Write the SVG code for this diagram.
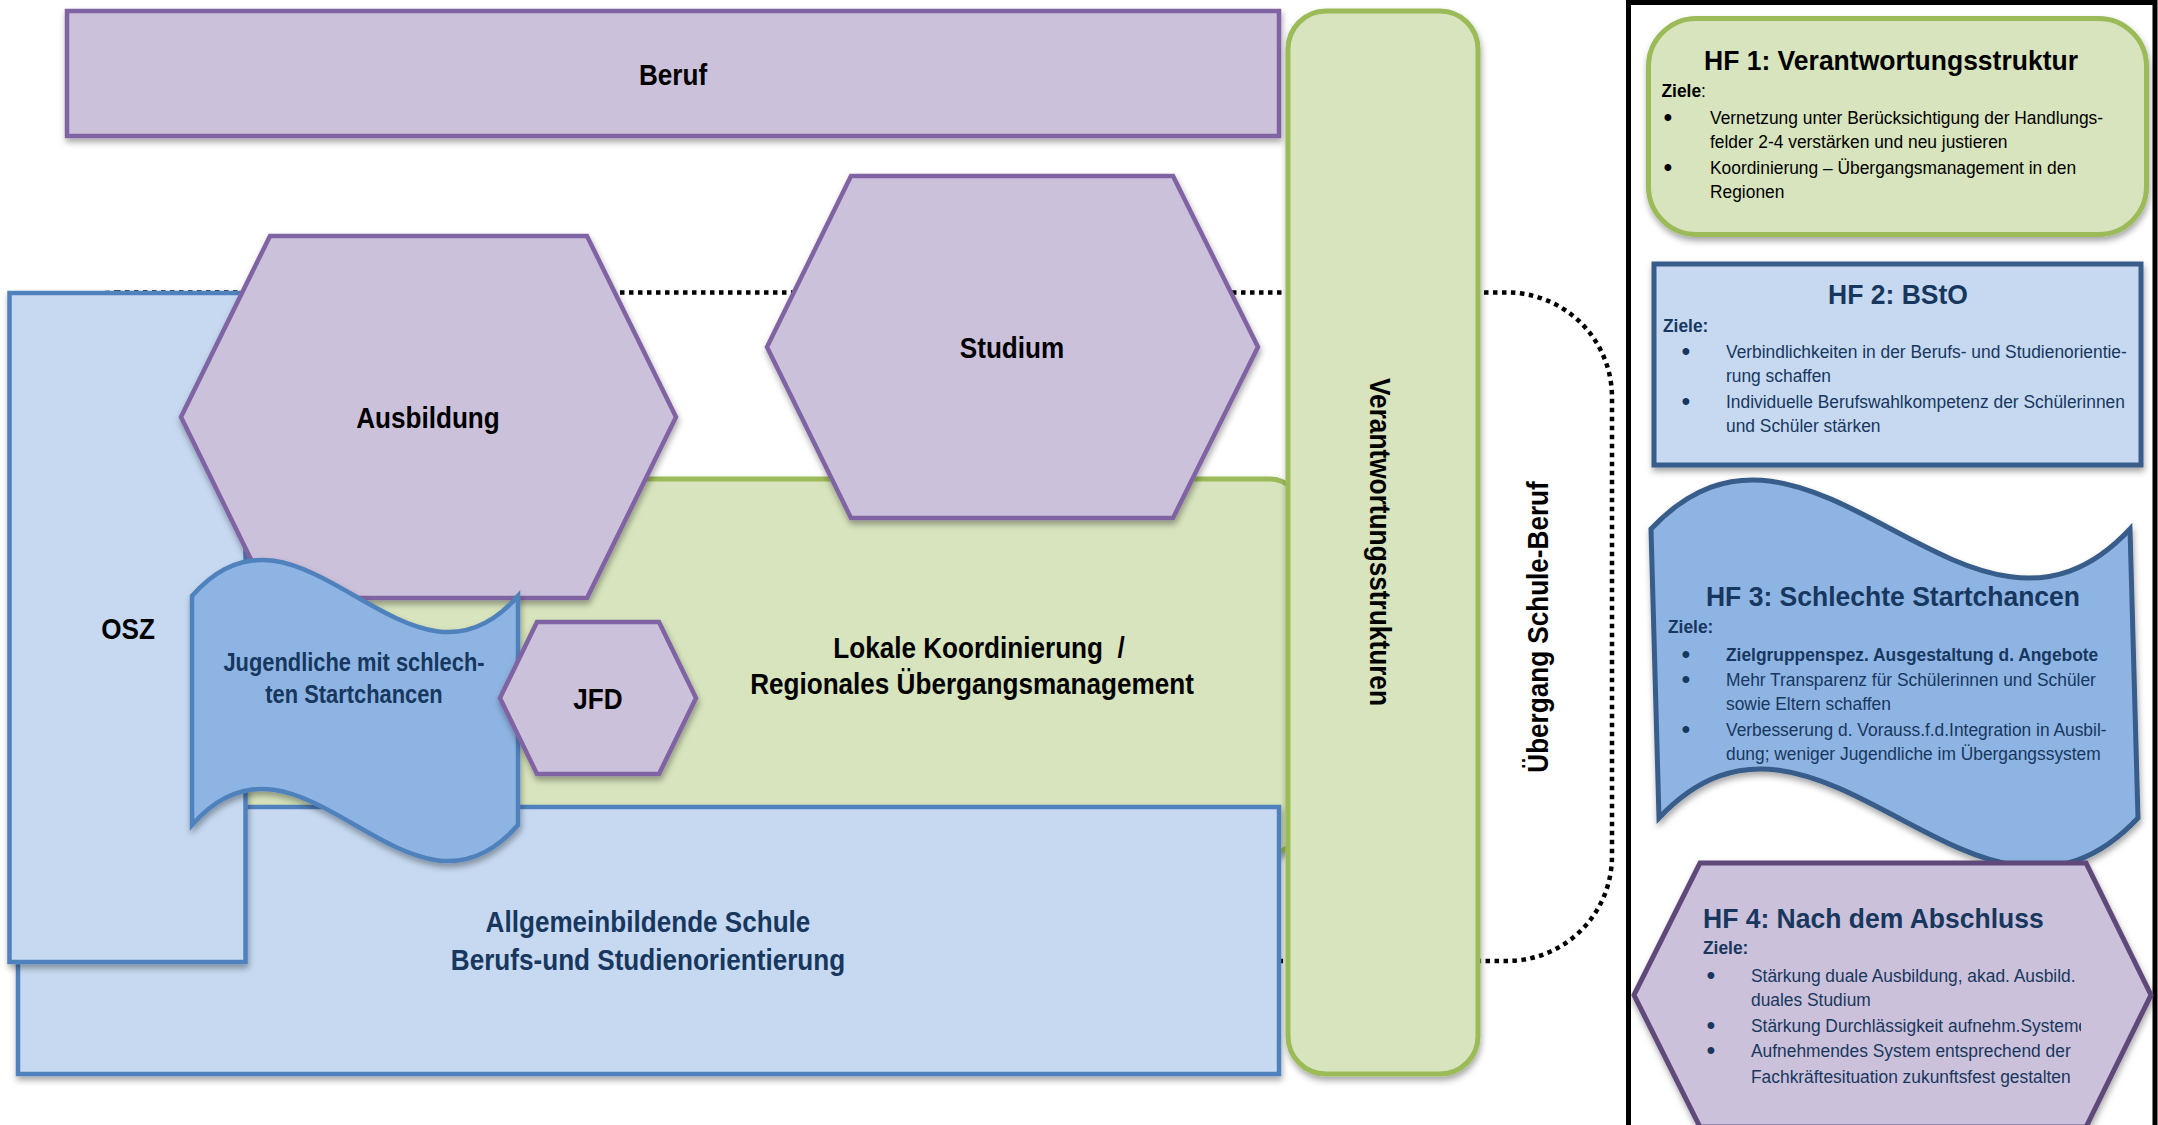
<svg xmlns="http://www.w3.org/2000/svg" width="2158" height="1125" viewBox="0 0 2158 1125">
<defs>
<filter id="sh" x="-10%" y="-10%" width="120%" height="120%">
<feDropShadow dx="1" dy="4" stdDeviation="3" flood-color="#000" flood-opacity="0.35"/>
</filter>
<clipPath id="clipSys"><rect x="1600" y="1010" width="481" height="40"/></clipPath>
</defs>
<style>
text{font-family:"Liberation Sans",Arial,sans-serif}
.lbl{font-weight:bold;font-size:30px;text-anchor:middle;fill:#000}
.jug{font-weight:bold;font-size:25px;text-anchor:middle;fill:#17375E}
.navy{fill:#17375E}
.ttl{font-weight:bold;font-size:28.5px}
.body{font-size:18.5px}
.bul{font-size:25px;text-anchor:middle}
.purple{fill:#CCC1DA;stroke:#8064A2;stroke-width:4.5;stroke-linejoin:miter}
.blue{fill:#C6D9F1;stroke:#4F81BD;stroke-width:4.5}
.wave{fill:#8EB4E3;stroke:#4F81BD;stroke-width:4.5}
.green{fill:#D7E4BD;stroke:#9BBB59;stroke-width:5}
.dot{fill:none;stroke:#000;stroke-width:4.5;stroke-dasharray:4.5 4.5}
</style>
<rect width="2158" height="1125" fill="#fff"/>

<g id="connectors">
<rect class="dot" x="11" y="292.5" width="1601" height="668.5" rx="105" ry="105"/>
</g>

<g id="beruf">
<rect class="purple" x="67" y="11" width="1212" height="125" filter="url(#sh)"/>
<text class="lbl" transform="translate(673,85) scale(0.87,1)">Beruf</text>
</g>

<g id="lokale">
<rect class="green" x="60" y="479" width="1240" height="374" rx="30" ry="30" filter="url(#sh)"/>
<text class="lbl" transform="translate(979,658) scale(0.87,1)">Lokale Koordinierung &#160;/</text>
<text class="lbl" transform="translate(972,694) scale(0.87,1)">Regionales Übergangsmanagement</text>
</g>

<g id="allgemein">
<rect class="blue" x="18" y="807" width="1261" height="267" filter="url(#sh)"/>
<text class="lbl navy" transform="translate(648,932) scale(0.87,1)">Allgemeinbildende Schule</text>
<text class="lbl navy" transform="translate(648,970) scale(0.87,1)">Berufs-und Studienorientierung</text>
</g>

<g id="osz">
<rect class="blue" x="9.5" y="293" width="236" height="669" filter="url(#sh)"/>
<text class="lbl" transform="translate(128,639) scale(0.87,1)">OSZ</text>
</g>

<g id="ausbildung">
<polygon class="purple" points="270,236 587,236 676,417 587,598 270,598 181,417" filter="url(#sh)"/>
<text class="lbl" transform="translate(428,428) scale(0.87,1)">Ausbildung</text>
</g>

<g id="studium">
<polygon class="purple" points="851,176 1173,176 1258,347 1173,518 851,518 767,347" filter="url(#sh)"/>
<text class="lbl" transform="translate(1012,358) scale(0.87,1)">Studium</text>
</g>

<g id="jugendliche">
<path class="wave" d="M192,596 C301,471 409,721 518,596 L518,825 C409,950 301,700 192,825 Z" filter="url(#sh)"/>
<text class="jug" transform="translate(354,671) scale(0.875,1)">Jugendliche mit schlech-</text>
<text class="jug" transform="translate(354,703) scale(0.875,1)">ten Startchancen</text>
</g>

<g id="jfd">
<polygon class="purple" points="537,622 659,622 696,698 659,774 537,774 500,698" filter="url(#sh)"/>
<text class="lbl" transform="translate(598,709) scale(0.87,1)">JFD</text>
</g>

<g id="verantwortung">
<rect class="green" x="1288" y="11" width="190" height="1063" rx="38" ry="38" filter="url(#sh)"/>
<text class="lbl" transform="translate(1370,542) rotate(90) scale(0.875,1)">Verantwortungsstrukturen</text>
</g>

<g id="uebergang">
<text class="lbl" transform="translate(1548,627) rotate(-90) scale(0.87,1)">Übergang Schule-Beruf</text>
</g>

<g id="panel">
<rect x="1628.5" y="2.5" width="526.5" height="1140" fill="none" stroke="#000" stroke-width="5"/>
</g>

<g id="hf1">
<rect class="green" x="1648.5" y="18.5" width="498" height="216" rx="48" ry="48" filter="url(#sh)"/>
<text class="ttl" text-anchor="middle" transform="translate(1891,70) scale(0.93,1)">HF 1: Verantwortungsstruktur</text>
<text class="body" transform="translate(1661.5,97) scale(0.94,1)"><tspan font-weight="bold">Ziele</tspan>:</text>
<text class="bul" x="1668" y="126">•</text>
<text class="bul" x="1668" y="176">•</text>
<g transform="translate(1710,0) scale(0.94,1)">
<text class="body" y="124">Vernetzung unter Berücksichtigung der Handlungs-</text>
<text class="body" y="148.5">felder 2-4 verstärken und neu justieren</text>
<text class="body" y="174">Koordinierung – Übergangsmanagement in den</text>
<text class="body" y="198.5">Regionen</text>
</g>
</g>

<g id="hf2">
<rect x="1654" y="264" width="487" height="201" fill="#C6D9F1" stroke="#385D8A" stroke-width="5" filter="url(#sh)"/>
<text class="ttl navy" text-anchor="middle" transform="translate(1898,304) scale(0.93,1)">HF 2: BStO</text>
<text class="body navy" font-weight="bold" transform="translate(1663,332) scale(0.94,1)">Ziele:</text>
<text class="bul navy" x="1686" y="360">•</text>
<text class="bul navy" x="1686" y="410">•</text>
<g transform="translate(1726,0) scale(0.94,1)">
<text class="body navy" y="358">Verbindlichkeiten in der Berufs- und Studienorientie-</text>
<text class="body navy" y="382">rung schaffen</text>
<text class="body navy" y="408">Individuelle Berufswahlkompetenz der Schülerinnen</text>
<text class="body navy" y="432">und Schüler stärken</text>
</g>
</g>

<g id="hf3">
<path d="M1651,529 C1811,359 1971,699 2130,529 L2138,818 C1978,988 1819,648 1659,818 Z" fill="#8EB4E3" stroke="#385D8A" stroke-width="5" filter="url(#sh)"/>
<text class="ttl navy" text-anchor="middle" transform="translate(1893,606) scale(0.93,1)">HF 3: Schlechte Startchancen</text>
<text class="body navy" font-weight="bold" transform="translate(1668,633) scale(0.94,1)">Ziele:</text>
<text class="bul navy" x="1686" y="663">•</text>
<text class="bul navy" x="1686" y="688">•</text>
<text class="bul navy" x="1686" y="738">•</text>
<g transform="translate(1726,0) scale(0.94,1)">
<text class="body navy" font-weight="bold" y="661">Zielgruppenspez. Ausgestaltung d. Angebote</text>
<text class="body navy" y="686">Mehr Transparenz für Schülerinnen und Schüler</text>
<text class="body navy" y="710">sowie Eltern schaffen</text>
<text class="body navy" y="736">Verbesserung d. Vorauss.f.d.Integration in Ausbil-</text>
<text class="body navy" y="760">dung; weniger Jugendliche im Übergangssystem</text>
</g>
</g>

<g id="hf4">
<polygon points="1700,863 2086,863 2151,995 2086,1127 1700,1127 1634,995" fill="#CCC1DA" stroke="#5F497A" stroke-width="5" filter="url(#sh)"/>
<text class="ttl navy" transform="translate(1703,928) scale(0.93,1)">HF 4: Nach dem Abschluss</text>
<text class="body navy" font-weight="bold" transform="translate(1703,954) scale(0.94,1)">Ziele:</text>
<text class="bul navy" x="1711" y="984">•</text>
<text class="bul navy" x="1711" y="1034">•</text>
<text class="bul navy" x="1711" y="1059">•</text>
<g transform="translate(1751,0) scale(0.94,1)">
<text class="body navy" y="982">Stärkung duale Ausbildung, akad. Ausbild.</text>
<text class="body navy" y="1006">duales Studium</text>
<text class="body navy" y="1057">Aufnehmendes System entsprechend der</text>
<text class="body navy" y="1083">Fachkräftesituation zukunftsfest gestalten</text>
</g>
<g clip-path="url(#clipSys)">
<text class="body navy" transform="translate(1751,1032) scale(0.94,1)">Stärkung Durchlässigkeit aufnehm.Systeme</text>
</g>
</g>
</svg>
